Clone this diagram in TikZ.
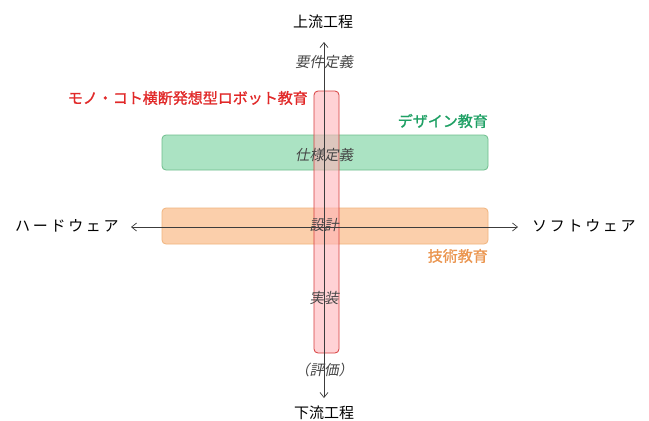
\documentclass[tikz,border=0pt]{standalone}
\usepackage{fontspec}
\setmainfont{Noto Sans CJK JP}
\newfontfamily\jpit[FakeSlant=0.2]{Noto Sans CJK JP}
\newfontfamily\jpbf[FakeBold=1.2]{Noto Sans CJK JP}
\newfontfamily\jpwide[LetterSpace=18]{Noto Sans CJK JP}
\usetikzlibrary{arrows.meta}
\definecolor{redfill}{RGB}{255,180,185}
\definecolor{redline}{RGB}{215,60,60}
\definecolor{greenfill}{RGB}{150,220,180}
\definecolor{greenline}{RGB}{110,190,140}
\definecolor{orangefill}{RGB}{251,195,150}
\definecolor{orangeline}{RGB}{240,180,125}
\definecolor{redtext}{RGB}{225,40,40}
\definecolor{greentext}{RGB}{30,160,100}
\definecolor{orangetext}{RGB}{235,150,80}
\definecolor{axis}{RGB}{60,60,60}
\definecolor{phasetext}{RGB}{70,70,70}
\tikzset{
  bandbox/.style={rounded corners=4pt, line width=0.8pt, inner sep=0pt},
  axisline/.style={draw=axis, line width=0.7pt, -{Straight Barb[length=5pt,width=8pt]}},
  endlabel/.style={font=\fontsize{15}{15}\selectfont, text=black, inner sep=0pt},
  widelabel/.style={font=\jpwide\fontsize{15}{15}\selectfont, text=black, inner sep=0pt},
  phaselabel/.style={font=\jpit\fontsize{14.5}{14.5}\selectfont, text=phasetext, inner sep=0pt},
  edulabel/.style={font=\jpbf\fontsize{15}{15}\selectfont, inner sep=0pt}
}
\begin{document}
\begin{tikzpicture}[x=1pt,y=-1pt]
\useasboundingbox[fill=white] (0,0) rectangle (649,421);
% bands
\draw[bandbox, draw=greenline, fill=greenfill, fill opacity=0.8] (162,135) rectangle (488,170);
\draw[bandbox, draw=orangeline, fill=orangefill, fill opacity=0.8] (162,208) rectangle (488,244);
\draw[bandbox, draw=redline, fill=redfill, fill opacity=0.6] (314,91) rectangle (339,353);
% axis end labels
\node[endlabel] (up) at (323,22) {上流工程};
\node[endlabel] (down) at (324,413) {下流工程};
\node[widelabel, anchor=west] (hw) at (15,226) {ハードウェア};
\node[widelabel, anchor=west] (sw) at (532,226) {ソフトウェア};
\coordinate (topend) at (324,42);
\coordinate (botend) at (324,398);
\coordinate (leftend) at (131,227);
\coordinate (rightend) at (518,227);
\coordinate (center) at (324,227);
% axes
\draw[axisline] (center) -- (topend);
\draw[axisline] (center) -- (botend);
\draw[axisline] (center) -- (leftend);
\draw[axisline] (center) -- (rightend);
% phase labels
\node[phaselabel] (req) at (324,62) {要件定義};
\node[phaselabel] (spec) at (324,155) {仕様定義};
\node[phaselabel] (design) at (324,225) {設計};
\node[phaselabel] (impl) at (324,298) {実装};
\node[phaselabel] (eval) at (324,370) {（評価）};
% education labels
\node[edulabel, text=redtext, anchor=east] (robot) at (308,98) {モノ・コト横断発想型ロボット教育};
\node[edulabel, text=greentext, anchor=east] (desedu) at (488,121) {デザイン教育};
\node[edulabel, text=orangetext, anchor=east] (techedu) at (488,256) {技術教育};
\end{tikzpicture}
\end{document}
